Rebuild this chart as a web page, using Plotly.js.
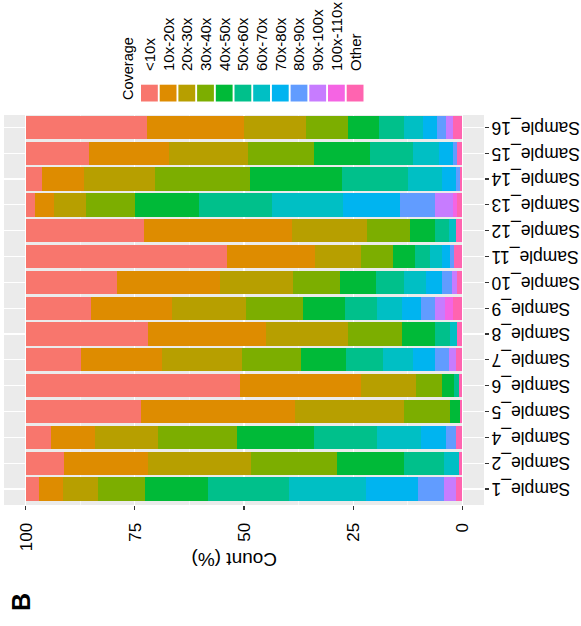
<!DOCTYPE html>
<html>
<head>
<meta charset="utf-8">
<script src="https://cdn.plot.ly/plotly-3.0.1.min.js"></script>
<style>
  html, body { margin: 0; padding: 0; background: #fff; overflow: hidden; width: 581px; height: 626px; }
  /* The figure is laid out landscape and turned a quarter turn counter-clockwise on the page */
  #chart { position: absolute; left: 0; top: 0; width: 626px; height: 581px;
           transform-origin: 0 0; transform: translate(0, 626px) rotate(-90deg); }
</style>
</head>
<body>
<div id="chart"></div>
<script>
// Samples along the category axis
const samples = ["Sample_1", "Sample_2", "Sample_4", "Sample_5", "Sample_6", "Sample_7", "Sample_8",
                 "Sample_9", "Sample_10", "Sample_11", "Sample_12", "Sample_13", "Sample_14",
                 "Sample_15", "Sample_16"];

// Coverage bins (legend order, top of the stack first)
const coverageBins = ["<10x", "10x-20x", "20x-30x", "30x-40x", "40x-50x", "50x-60x",
                      "60x-70x", "70x-80x", "80x-90x", "90x-100x", "100x-110x", "Other"];
const binColors = ["#F8766D", "#DE8C00", "#B79F00", "#7CAE00", "#00BA38", "#00C08B",
                   "#00BFC4", "#00B4F0", "#619CFF", "#C77CFF", "#F564E3", "#FF64B0"];

// Percentage of reads in each coverage bin, one value per sample
const covLt10    = [3.1, 8.7, 5.7, 26.5, 49.0, 12.7, 27.9, 15.0, 20.9, 46.0, 27.0, 2.2, 3.8, 14.5, 27.7];
const cov10to20  = [5.5, 19.2, 10.1, 35.2, 27.9, 18.6, 27.1, 18.5, 23.7, 20.3, 34.0, 4.2, 9.5, 18.3, 22.4];
const cov20to30  = [8.0, 23.7, 14.6, 24.9, 12.5, 18.3, 18.8, 17.0, 16.6, 10.6, 17.3, 7.3, 16.4, 18.2, 14.2];
const cov30to40  = [10.6, 19.7, 18.1, 10.7, 6.0, 13.5, 12.5, 13.1, 10.9, 7.2, 9.7, 11.4, 21.6, 15.0, 9.5];
const cov40to50  = [14.6, 15.4, 17.6, 2.1, 2.8, 10.2, 7.5, 9.6, 8.2, 5.0, 5.8, 14.7, 21.2, 12.8, 7.1];
const cov50to60  = [18.6, 9.2, 14.3, 0, 1.0, 8.6, 3.4, 7.3, 6.3, 3.6, 3.2, 16.6, 15.0, 10.0, 5.7];
const cov60to70  = [17.5, 3.3, 10.1, 0, 0, 6.9, 1.5, 5.7, 5.0, 2.7, 1.6, 16.3, 7.9, 5.9, 4.4];
const cov70to80  = [11.9, 0, 5.7, 0, 0, 5.0, 0, 4.4, 3.8, 1.8, 0, 13.1, 3.2, 3.1, 3.2];
const cov80to90  = [6.1, 0, 2.4, 0, 0, 3.1, 0, 3.2, 2.3, 1.0, 0, 8.0, 0.8, 1.1, 2.1];
const cov90to100 = [2.7, 0, 0, 0, 0, 1.7, 0, 2.3, 1.1, 0, 0, 4.0, 0, 0, 1.5];
const cov100to110 = [0, 0, 0, 0, 0, 0, 0, 1.7, 0, 0, 0, 1.1, 0, 0, 0];
const covOther   = [1.4, 0.8, 1.4, 0.6, 0.8, 1.4, 1.3, 2.2, 1.2, 1.8, 1.4, 1.1, 0.6, 1.1, 2.2];

const binValues = [covLt10, cov10to20, cov20to30, cov30to40, cov40to50, cov50to60,
                   cov60to70, cov70to80, cov80to90, cov90to100, cov100to110, covOther];

const FONT = "Liberation Sans, Arial, Helvetica, sans-serif";
const W = 626, H = 581;
const M = { l: 121, r: 115, t: 4, b: 97 };

// Stack from the bottom: "Other" first, "<10x" last so it sits on top
const traces = [];
for (let i = coverageBins.length - 1; i >= 0; i--) {
  traces.push({
    type: "bar",
    x: samples,
    y: binValues[i],
    name: coverageBins[i],
    width: 0.9,
    marker: { color: binColors[i], line: { width: 0 } },
    showlegend: false,
    hovertemplate: "%{x}<br>" + coverageBins[i] + ": %{y}%<extra></extra>"
  });
}

// Pixel position inside the figure -> paper coordinates
const plotW = W - M.l - M.r, plotH = H - M.t - M.b;
const px = v => (v - M.l) / plotW;
const py = v => (H - M.b - v) / plotH;

// Coverage key, drawn as a column of square swatches with labels
const shapes = [];
const annotations = [];
const keyTop = 141, keyStep = 18.7, keySize = 16.8, keyLeft = 524.5;
coverageBins.forEach((bin, i) => {
  const y0 = keyTop + i * keyStep;
  shapes.push({
    type: "rect", xref: "paper", yref: "paper", layer: "above",
    x0: px(keyLeft), x1: px(keyLeft + keySize), y0: py(y0), y1: py(y0 + keySize),
    fillcolor: binColors[i], line: { width: 0 }
  });
  annotations.push({
    xref: "paper", yref: "paper", x: px(553), y: py(y0 + keySize / 2),
    xanchor: "left", yanchor: "middle", showarrow: false, text: bin,
    font: { family: FONT, size: 15, color: "#000" }
  });
});
annotations.push({
  xref: "paper", yref: "paper", x: px(524), y: py(127.5),
  xanchor: "left", yanchor: "middle", showarrow: false, text: "Coverage",
  font: { family: FONT, size: 14.5, color: "#000" }
});
// Panel tag
annotations.push({
  xref: "paper", yref: "paper", x: px(13), y: py(21),
  xanchor: "left", yanchor: "middle", showarrow: false, text: "<b>B</b>",
  font: { family: FONT, size: 25, color: "#000" }
});
// Value-axis title, centred a little above the panel middle
annotations.push({
  xref: "paper", yref: "paper", x: px(67), y: py(234),
  xanchor: "center", yanchor: "middle", showarrow: false, textangle: -90,
  text: "Count (%)",
  font: { family: FONT, size: 19, color: "#000" }
});

const layout = {
  width: W, height: H,
  margin: { l: M.l, r: M.r, t: M.t, b: M.b, pad: 0, autoexpand: false },
  paper_bgcolor: "#FFFFFF",
  plot_bgcolor: "#EBEBEB",
  barmode: "stack",
  font: { family: FONT, color: "#000" },
  xaxis: {
    type: "category",
    categoryorder: "array",
    categoryarray: samples,
    range: [-0.62, 14.48],
    showgrid: true, gridcolor: "#FFFFFF", gridwidth: 1.1,
    zeroline: false, showline: false,
    ticks: "outside", ticklen: 3.5, tickwidth: 1.1, tickcolor: "#333333",
    tickangle: -90,
    ticklabelstandoff: -4,
    tickfont: { family: FONT, size: 17.5, color: "#000" },
    fixedrange: true
  },
  yaxis: {
    range: [-5, 105],
    tick0: 0, dtick: 25,
    showgrid: true, gridcolor: "#FFFFFF", gridwidth: 1.1,
    minor: { tick0: 12.5, dtick: 25, showgrid: true, gridcolor: "#FFFFFF", gridwidth: 0.55 },
    zeroline: false, showline: false,
    ticks: "outside", ticklen: 3.5, tickwidth: 1.1, tickcolor: "#333333",
    ticklabelstandoff: 10,
    tickfont: { family: FONT, size: 17, color: "#000" },
    fixedrange: true
  },
  shapes: shapes,
  annotations: annotations,
  showlegend: false
};

Plotly.newPlot("chart", traces, layout, { displayModeBar: false, staticPlot: true });
</script>
</body>
</html>
